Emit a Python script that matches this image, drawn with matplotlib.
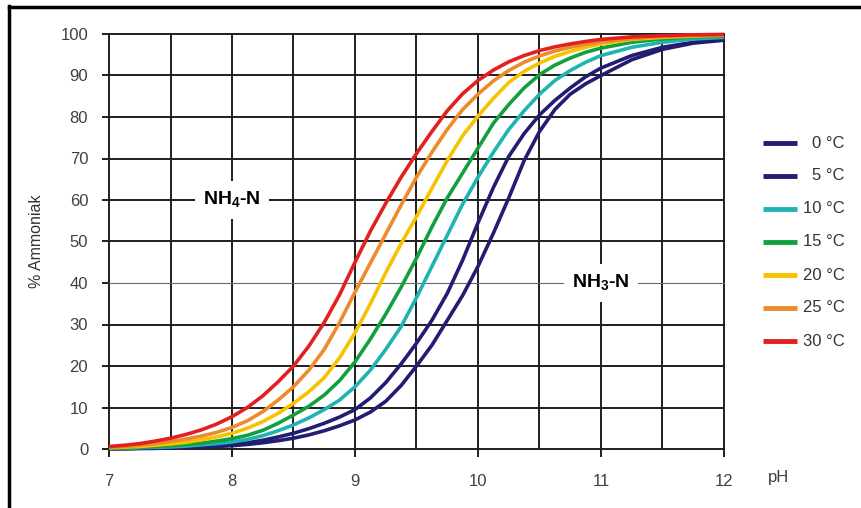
import matplotlib
matplotlib.use("Agg")
import matplotlib.pyplot as plt
from matplotlib.lines import Line2D

plt.rcParams['font.family'] = ['Liberation Sans', 'DejaVu Sans']
plt.rcParams['mathtext.fontset'] = 'custom'
plt.rcParams['mathtext.rm'] = 'Liberation Sans'
plt.rcParams['mathtext.bf'] = 'Liberation Sans:bold'

ph = [7.0, 7.125, 7.25, 7.375, 7.5, 7.625, 7.75, 7.875,
      8.0, 8.125, 8.25, 8.375, 8.5, 8.625, 8.75, 8.875,
      9.0, 9.125, 9.25, 9.375, 9.5, 9.625, 9.75, 9.875,
      10.0, 10.125, 10.25, 10.375, 10.5, 10.625, 10.75, 10.875,
      11.0, 11.25, 11.5, 11.75, 12.0]

# % ammonia (NH3) per temperature
t30 = [0.6, 0.9, 1.3, 1.9, 2.6, 3.5, 4.6, 6.0,
       7.8, 10.0, 12.8, 16.2, 20.0, 24.8, 30.5, 37.2,
       45.0, 52.5, 59.2, 65.5, 71.2, 76.5, 81.5, 85.6,
       88.8, 91.3, 93.3, 94.8, 96.0, 96.9, 97.6, 98.2,
       98.7, 99.3, 99.6, 99.8, 99.9]
t25 = [0.4, 0.6, 0.9, 1.3, 1.8, 2.4, 3.1, 4.0,
       5.2, 6.8, 9.0, 11.8, 15.0, 19.0, 24.0, 30.5,
       37.8, 44.8, 51.8, 58.8, 65.5, 71.5, 77.0, 81.8,
       85.5, 88.7, 91.2, 93.2, 94.7, 95.9, 96.8, 97.5,
       98.1, 98.9, 99.4, 99.7, 99.8]
t20 = [0.3, 0.45, 0.6, 0.9, 1.2, 1.6, 2.2, 2.9,
       3.8, 5.0, 6.6, 8.6, 11.0, 13.8, 17.2, 22.0,
       28.0, 35.0, 42.5, 49.5, 56.0, 62.8, 69.5, 75.5,
       80.2, 84.5, 88.3, 91.0, 93.0, 94.6, 95.8, 96.8,
       97.6, 98.7, 99.2, 99.5, 99.7]
t15 = [0.2, 0.3, 0.4, 0.6, 0.8, 1.1, 1.4, 1.9,
       2.5, 3.3, 4.5, 6.2, 8.2, 10.3, 13.0, 16.5,
       21.0, 26.5, 32.5, 39.0, 46.0, 53.5, 60.5, 66.5,
       72.5, 78.5, 83.0, 87.0, 90.2, 92.5, 94.2, 95.6,
       96.6, 98.0, 98.8, 99.3, 99.5]
t10 = [0.1, 0.2, 0.3, 0.4, 0.5, 0.7, 1.0, 1.3,
       1.7, 2.3, 3.2, 4.4, 5.8, 7.5, 9.5, 11.8,
       15.0, 19.0, 24.0, 29.5, 36.5, 44.0, 51.5, 59.0,
       65.5, 71.5, 77.0, 81.5, 85.5, 88.8, 91.2, 93.2,
       94.8, 96.8, 98.0, 98.8, 99.2]
t5 = [0.05, 0.1, 0.2, 0.25, 0.35, 0.5, 0.7, 0.9,
      1.1, 1.5, 2.1, 2.9, 3.8, 4.9, 6.2, 7.7,
      9.5, 12.3, 16.0, 20.5, 25.5, 31.0, 37.5, 45.5,
      54.5, 63.0, 70.5, 76.0, 80.5, 84.0, 87.0, 89.7,
      91.8, 94.8, 96.8, 98.0, 98.8]
t0 = [0.0, 0.05, 0.1, 0.15, 0.25, 0.35, 0.5, 0.6,
      0.8, 1.1, 1.5, 2.0, 2.6, 3.4, 4.4, 5.6,
      7.0, 8.9, 11.5, 15.3, 20.0, 25.0, 31.0, 37.0,
      44.0, 52.0, 60.5, 69.5, 76.5, 81.8, 85.5, 88.0,
      90.0, 93.8, 96.3, 97.8, 98.5]

labels = ['0 °C', '5 °C', '10 °C', '15 °C', '20 °C', '25 °C', '30 °C']
series = [t0, t5, t10, t15, t20, t25, t30]
colors = ['#221d72', '#221d72', '#1fb3b2', '#12a03e', '#f7c200', '#ee8a2c', '#e1201f']

x_ticks = [7, 8, 9, 10, 11, 12]
x_grid = [7, 7.5, 8, 8.5, 9, 9.5, 10, 10.5, 11, 11.5, 12]
y_ticks = [0, 10, 20, 30, 40, 50, 60, 70, 80, 90, 100]

fig = plt.figure(figsize=(8.62, 5.08), dpi=100, facecolor='white')
ax = fig.add_axes([109 / 862, 1 - 449 / 508, 615 / 862, 415 / 508])

ax.set_xlim(7, 12)
ax.set_ylim(0, 100)
for s in ax.spines.values():
    s.set_visible(False)

# grid
gc = '#1e1e1e'
for xv in x_grid:
    ax.axvline(xv, color=gc, lw=1.4, zorder=1, clip_on=False)
for yv in y_ticks:
    if yv == 40:
        ax.axhline(yv, color='#6a6a6a', lw=0.8, zorder=1, clip_on=False)
    else:
        ax.axhline(yv, color=gc, lw=1.4, zorder=1, clip_on=False)

# curves
for vals, c in zip(series, colors):
    ax.plot(ph, vals, color=c, lw=2.6, solid_joinstyle='round',
            solid_capstyle='butt', zorder=3, clip_on=False)

ax.set_xticks(x_ticks)
ax.set_yticks(y_ticks)
ax.tick_params(axis='x', length=6, width=1.4, color=gc, pad=12,
               labelsize=12, labelcolor='#404040')
ax.tick_params(axis='y', length=5, width=1.4, color=gc, pad=10,
               labelsize=12, labelcolor='#404040')

ax.set_ylabel('% Ammoniak', fontsize=11.5, color='#333333', labelpad=12)
ax.text(12.36, -6.8, 'pH', fontsize=12, color='#404040', ha='left', va='center')

box = dict(facecolor='white', edgecolor='none', pad=6)
ax.text(8.0, 60, r'NH$_\mathbf{4}$-N', fontsize=14, fontweight='bold', ha='center',
        va='center', bbox=box, zorder=2)
ax.text(11.0, 40, r'NH$_\mathbf{3}$-N', fontsize=14, fontweight='bold', ha='center',
        va='center', bbox=box, zorder=2)

# legend, drawn by hand so the labels sit right-aligned
for i, (lab, c) in enumerate(zip(labels, colors)):
    yy = 1 - (143 + i * 33) / 508
    fig.add_artist(Line2D([763 / 862, 797 / 862], [yy, yy], color=c, lw=3.5,
                          solid_capstyle='butt'))
    fig.text(845 / 862, yy, lab, fontsize=12, color='#333333', ha='right', va='center')

# frame lines of the original screenshot
fig.add_artist(Line2D([9 / 862, 9 / 862], [0, 1 - 6 / 508], color='black', lw=2.5))
fig.add_artist(Line2D([9 / 862, 1], [1 - 7 / 508, 1 - 7 / 508], color='black', lw=2.5))

fig.savefig('out.png', dpi=100, facecolor='white')
